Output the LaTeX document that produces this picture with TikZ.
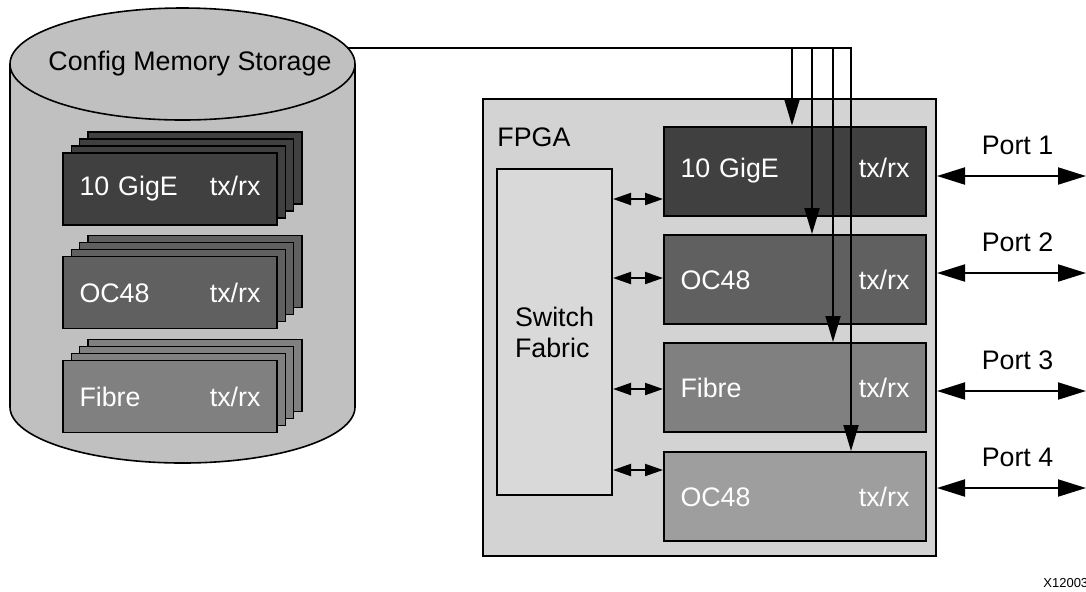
\documentclass[tikz,border=0pt]{standalone}
\usepackage{fontspec}
\setmainfont{Liberation Sans}
\usetikzlibrary{arrows.meta}
\definecolor{cylgray}{HTML}{C0C0C0}
\definecolor{fpgagray}{HTML}{D3D3D3}
\definecolor{swgray}{HTML}{D9D9D9}
\definecolor{gigegray}{HTML}{404040}
\definecolor{ocgray}{HTML}{606060}
\definecolor{fibgray}{HTML}{808080}
\definecolor{oclight}{HTML}{9E9E9E}

\begin{document}
\begin{tikzpicture}[x=0.5pt,y=-0.5pt,font=\fontsize{13.4}{15.5}\selectfont,
  card/.style={draw,line width=0.8pt,text=white,minimum height=36pt,
    text width=90.5pt,inner xsep=8.25pt,inner ysep=0pt},
  unit/.style={draw,line width=1pt,text=white,minimum height=44.5pt,
    text width=114.5pt,inner xsep=8.25pt,inner ysep=0pt},
  tap/.style={line width=1pt,-{Triangle[length=13pt,width=7.5pt]}},
  link/.style={line width=1pt,{Triangle[length=9pt,width=6pt]}-{Triangle[length=9pt,width=6pt]}},
  port/.style={line width=1pt,{Triangle[length=14pt,width=8.5pt]}-{Triangle[length=14pt,width=8.5pt]}}]
\useasboundingbox (0,0) rectangle (1086,591);
\pgfmathsetmacro{\cx}{182.5} % centro del cilindro
\pgfmathsetmacro{\rx}{172.5} % semiasse orizzontale
\pgfmathsetmacro{\ry}{56} % semiasse verticale

\draw[line width=0.8pt,fill=cylgray] (\cx-\rx,64) -- (\cx-\rx,407)
  arc[start angle=180,end angle=0,x radius=\rx,y radius=\ry] -- (\cx+\rx,64); % corpo
\draw[line width=0.8pt,fill=cylgray] (\cx,64) ellipse ({\rx} and \ry); % coperchio
\node (mem) at (190,64) {Config Memory Storage};

% pile di schede nella memoria
\foreach \y/\c/\lab/\nm in {189/gigegray/10 GigE/memgige,292.5/ocgray/OC48/memoc,396.5/fibgray/Fibre/memfib}{
  \foreach \k in {3,2,1} \node[card,fill=\c] at (170+8.3*\k,\y-7*\k) {};
  \node[card,fill=\c] (\nm) at (170,\y) {\lab\hfill tx/rx};
}

\node[draw,line width=1pt,fill=fpgagray,minimum width=226.5pt,minimum height=228.5pt,inner sep=0pt]
  (fpga) at (709.5,327.5) {}; % FPGA
\node[anchor=west,inner sep=0pt] (fpgalbl) at (497,137) {FPGA};
\node[draw,line width=1pt,fill=swgray,minimum width=57.5pt,minimum height=163pt,align=left]
  (sw) at (554.5,332) {Switch\\Fabric};

\node[unit,fill=gigegray] (gige) at (795,171) {10 GigE\hfill tx/rx};
\node[unit,fill=ocgray] (ocA) at (795,279.5) {OC48\hfill tx/rx};
\node[unit,fill=fibgray] (fibre) at (795,387.5) {Fibre\hfill tx/rx};
\node[unit,fill=oclight] (ocB) at (795,496.5) {OC48\hfill tx/rx};

% bus di configurazione
\coordinate (bus) at (347,48);
\draw[tap] (bus) -- (851,48) -- (851,0 |- ocB.north);
\foreach \x/\b in {792/gige,812/ocA,833/fibre} \draw[tap] (\x,48) -- (\x,0 |- \b.north);

% collegamenti con lo switch
\foreach \b/\y in {gige/199,ocA/278,fibre/389,ocB/470}
  \draw[link] (sw.east |- 0,\y) -- (\b.west |- 0,\y);

% porte
\coordinate (edge) at (1086,0);
\foreach \y/\n in {176/1,273/2,391/3,488/4}
  \draw[port] (fpga.east |- 0,\y) -- (edge |- 0,\y)
    node[midway,above=10pt,inner sep=0pt,xshift=3pt] {Port \n};

\node[anchor=west,inner sep=0pt,font=\fontsize{6.5}{8}\selectfont] (fig) at (1043,583) {X12003};
\end{tikzpicture}
\end{document}
